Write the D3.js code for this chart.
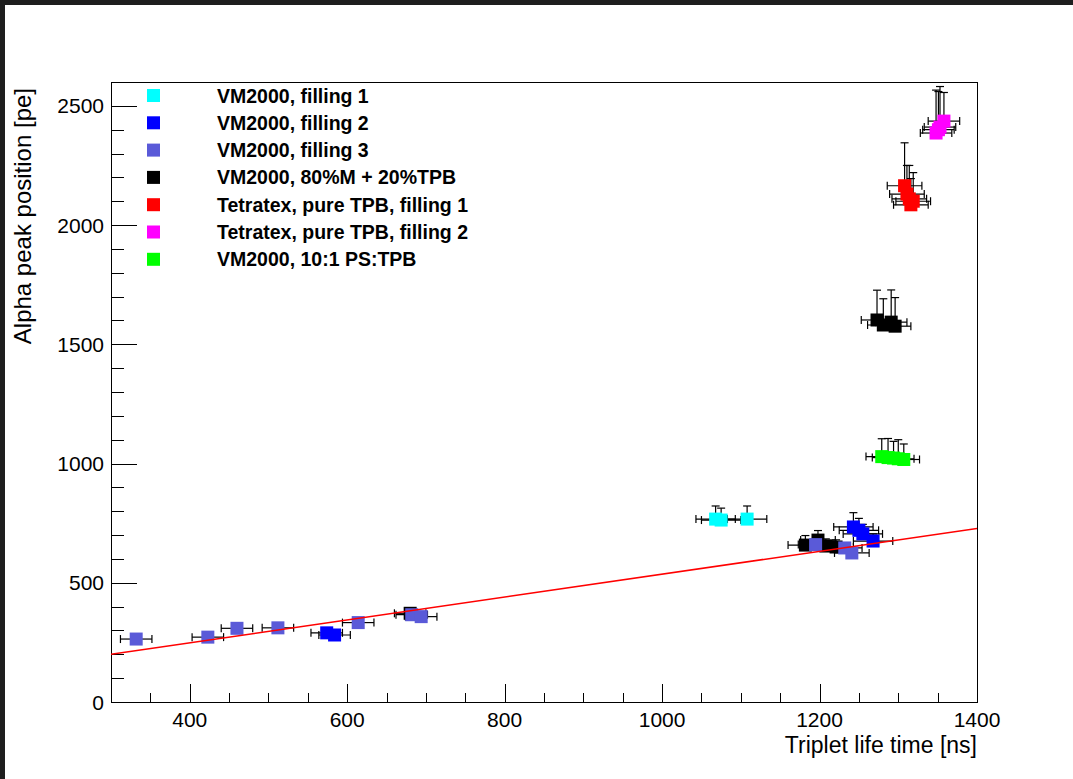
<!DOCTYPE html>
<html>
<head>
<meta charset="utf-8">
<script src="https://cdn.jsdelivr.net/npm/d3@7"></script>
<style>
  html, body { margin: 0; padding: 0; background: #ffffff; }
  svg { display: block; }
  text { font-family: "Liberation Sans", Arial, Helvetica, sans-serif; }
</style>
</head>
<body>
<svg id="chart" width="1073" height="779"></svg>
<script>
// ---- data: [x, y, xErr, yErrUp, yErrDown] ----
const filling1 = [[1068, 767, 25, 55, 8], [1075, 763, 25, 50, 8], [1108, 767, 25, 55, 8]];
const filling2 = [[574, 290, 20, 8, 8], [584, 281, 20, 8, 8], [1243, 734, 25, 60, 8], [1250, 720, 25, 50, 8], [1255, 705, 25, 40, 8], [1268, 675, 25, 30, 8]];
const mixTPB = [[680, 372, 20, 8, 8], [1182, 658, 22, 40, 8], [1198, 679, 22, 40, 8], [1208, 654, 22, 30, 8], [1221, 650, 22, 30, 8], [1273, 1602, 20, 125, 10], [1281, 1581, 20, 110, 10], [1291, 1593, 20, 135, 10], [1296, 1576, 20, 120, 10]];
const filling3 = [[332, 264, 20, 8, 8], [423, 272, 20, 8, 8], [460, 309, 20, 8, 8], [512, 311, 20, 8, 8], [614, 333, 20, 8, 8], [682, 366, 20, 8, 8], [694, 358, 20, 8, 8], [1195, 660, 22, 20, 8], [1232, 646, 22, 20, 8], [1241, 625, 22, 20, 8]];
const tetraF1 = [[1308, 2165, 22, 180, 10], [1311, 2130, 22, 120, 10], [1314, 2110, 22, 140, 10], [1316, 2085, 22, 110, 10], [1319, 2100, 22, 120, 10]];
const tetraF2 = [[1348, 2386, 20, 180, 10], [1351, 2400, 20, 160, 10], [1353, 2411, 20, 170, 10], [1358, 2436, 20, 120, 10]];
const psTPB = [[1279, 1029, 20, 75, 8], [1287, 1025, 20, 80, 8], [1294, 1023, 20, 70, 8], [1300, 1020, 20, 80, 8], [1307, 1017, 20, 65, 8]];
const fitX = [300, 1400];
const fitY = [200, 728];

const seriesNames = ["VM2000, filling 1", "VM2000, filling 2", "VM2000, filling 3", "VM2000, 80%M + 20%TPB", "Tetratex, pure TPB, filling 1", "Tetratex, pure TPB, filling 2", "VM2000, 10:1 PS:TPB"];
const seriesColors = ["#00ffff", "#0000ff", "#5a5ad8", "#000000", "#ff0000", "#ff00ff", "#00ff00"];
const seriesData = [filling1, filling2, filling3, mixTPB, tetraF1, tetraF2, psTPB];
// drawing order (black drawn before filling 3 so it sits underneath)
const drawOrder = [0, 1, 3, 2, 4, 5, 6];

const xMajorTicks = [400, 600, 800, 1000, 1200, 1400];
const yMajorTicks = [0, 500, 1000, 1500, 2000, 2500];

// ---- layout ----
const svg = d3.select("#chart");
const L = 111, T = 82, W = 866, H = 620;

// dark window borders
svg.append("rect").attr("x", 0).attr("y", 0).attr("width", 1073).attr("height", 5).attr("fill", "#1e1e1e");
svg.append("rect").attr("x", 0).attr("y", 0).attr("width", 5).attr("height", 779).attr("fill", "#1e1e1e");

const x = d3.scaleLinear().domain([300, 1400]).range([L, L + W]);
const y = d3.scaleLinear().domain([0, 2600]).range([T + H, T]);

const g = svg.append("g");

// frame
g.append("rect").attr("x", L + 0.5).attr("y", T + 0.5).attr("width", W).attr("height", H)
  .attr("fill", "none").attr("stroke", "#000").attr("stroke-width", 1);

// x ticks
const xMinor = d3.range(350, 1400, 50).filter(v => v % 200 !== 0);
g.selectAll(".xmaj").data(xMajorTicks).enter().append("line")
  .attr("x1", d => Math.round(x(d)) + 0.5).attr("x2", d => Math.round(x(d)) + 0.5)
  .attr("y1", T + H).attr("y2", T + H - 18).attr("stroke", "#000");
g.selectAll(".xmin").data(xMinor).enter().append("line")
  .attr("x1", d => Math.round(x(d)) + 0.5).attr("x2", d => Math.round(x(d)) + 0.5)
  .attr("y1", T + H).attr("y2", T + H - 9).attr("stroke", "#000");
g.selectAll(".xlab").data(xMajorTicks).enter().append("text")
  .attr("x", d => x(d)).attr("y", 727).attr("text-anchor", "middle")
  .attr("font-size", 21).attr("fill", "#000").text(d => d);

// y ticks
const yMinor = d3.range(100, 2600, 100).filter(v => v % 500 !== 0);
g.selectAll(".ymaj").data(yMajorTicks).enter().append("line")
  .attr("y1", d => Math.round(y(d)) + 0.5).attr("y2", d => Math.round(y(d)) + 0.5)
  .attr("x1", L).attr("x2", L + 26).attr("stroke", "#000");
g.selectAll(".ymin").data(yMinor).enter().append("line")
  .attr("y1", d => Math.round(y(d)) + 0.5).attr("y2", d => Math.round(y(d)) + 0.5)
  .attr("x1", L).attr("x2", L + 13).attr("stroke", "#000");
g.selectAll(".ylab").data(yMajorTicks).enter().append("text")
  .attr("x", 104).attr("y", d => y(d) + 7.5).attr("text-anchor", "end")
  .attr("font-size", 21).attr("fill", "#000").text(d => d);

// axis titles
g.append("text").attr("x", 977).attr("y", 753).attr("text-anchor", "end")
  .attr("font-size", 23).attr("fill", "#000").text("Triplet life time [ns]");
g.append("text").attr("transform", "translate(31,88) rotate(-90)").attr("text-anchor", "end")
  .attr("font-size", 24).attr("fill", "#000").text("Alpha peak position [pe]");

// clip
svg.append("clipPath").attr("id", "clip").append("rect")
  .attr("x", L).attr("y", T).attr("width", W).attr("height", H);
const plot = g.append("g").attr("clip-path", "url(#clip)");

const cap = 4, ms = 13;
drawOrder.forEach(i => {
  const data = seriesData[i];
  const sg = plot.append("g");
  data.forEach(d => {
    const cx = x(d[0]), cy = y(d[1]);
    const x1 = x(d[0] - d[2]), x2 = x(d[0] + d[2]);
    const yU = y(d[1] + d[3]), yD = y(d[1] - d[4]);
    const eb = sg.append("g").attr("stroke", "#000").attr("stroke-width", 1.2).attr("fill", "none");
    eb.append("line").attr("x1", x1).attr("x2", x2).attr("y1", cy).attr("y2", cy);
    eb.append("line").attr("x1", x1).attr("x2", x1).attr("y1", cy - cap).attr("y2", cy + cap);
    eb.append("line").attr("x1", x2).attr("x2", x2).attr("y1", cy - cap).attr("y2", cy + cap);
    eb.append("line").attr("x1", cx).attr("x2", cx).attr("y1", yU).attr("y2", yD);
    eb.append("line").attr("x1", cx - cap).attr("x2", cx + cap).attr("y1", yU).attr("y2", yU);
    eb.append("line").attr("x1", cx - cap).attr("x2", cx + cap).attr("y1", yD).attr("y2", yD);
  });
  sg.selectAll("rect").data(data).enter().append("rect")
    .attr("x", d => x(d[0]) - ms / 2).attr("y", d => y(d[1]) - ms / 2)
    .attr("width", ms).attr("height", ms).attr("fill", seriesColors[i]);
});

// fit line
const fitPts = fitX.map((v, i) => [v, fitY[i]]);
plot.append("path").datum(fitPts)
  .attr("d", d3.line().x(d => x(d[0])).y(d => y(d[1])))
  .attr("stroke", "#ff0000").attr("stroke-width", 1.5).attr("fill", "none");

// legend
const leg = g.append("g");
seriesNames.forEach((name, i) => {
  const ly = 95.5 + i * 27.3;
  leg.append("rect").attr("x", 147).attr("y", ly - 6.5).attr("width", 13).attr("height", 13).attr("fill", seriesColors[i]);
  leg.append("text").attr("x", 217).attr("y", ly + 7).attr("font-size", 19.5).attr("font-weight", "bold")
    .attr("fill", "#000").text(name);
});
</script>
</body>
</html>
